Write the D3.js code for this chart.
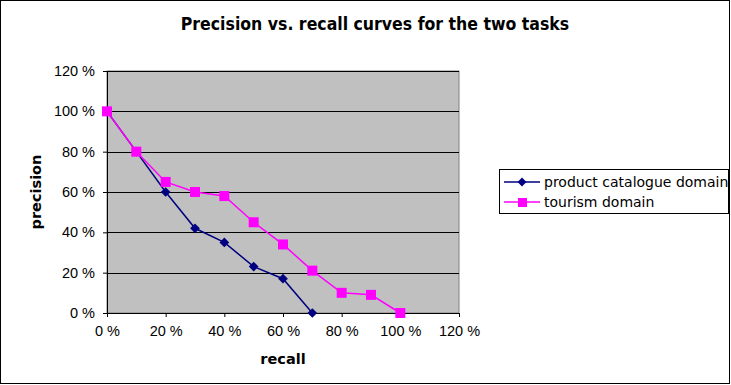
<!DOCTYPE html>
<html>
<head>
<meta charset="utf-8">
<script src="https://cdn.jsdelivr.net/npm/d3@7"></script>
<style>
  body { margin: 0; background: #fff; }
  svg { display: block; font-family: "DejaVu Sans", Verdana, sans-serif; }
</style>
</head>
<body>
<svg id="chart"></svg>
<script>
// values (recall %, precision %)
var productRecall = [0, 10, 20, 30, 40, 50, 60, 70];
var productPrecision = [100, 80, 60, 42, 35, 23, 17, 0];
var tourismRecall = [0, 10, 20, 30, 40, 50, 60, 70, 80, 90, 100];
var tourismPrecision = [100, 80, 65, 60, 58, 45, 34, 21, 10, 9, 0];
var xTicks = [0, 20, 40, 60, 80, 100, 120];
var yTicks = [0, 20, 40, 60, 80, 100, 120];
var seriesNames = ["product catalogue domain", "tourism domain"];

var chartWidth = 731, chartHeight = 385;
var svg = d3.select("#chart").attr("width", chartWidth).attr("height", chartHeight);

var margin = { top: 71, left: 107 },
    width = 352,
    height = 242;

// outer frame
svg.append("rect")
    .attr("x", 0.5).attr("y", 0.5)
    .attr("width", 729).attr("height", 383)
    .attr("fill", "#fff").attr("stroke", "#000");

svg.append("text")
    .attr("x", 375).attr("y", 30)
    .attr("text-anchor", "middle")
    .style("font-family", "'DejaVu Sans Condensed', 'DejaVu Sans', sans-serif")
    .style("font-weight", "bold")
    .style("font-size", "17.5px")
    .text("Precision vs. recall curves for the two tasks");

var x = d3.scaleLinear().domain([0, 120]).range([0, width]),
    y = d3.scaleLinear().domain([0, 120]).range([height, 0]);

var g = svg.append("g").attr("transform", "translate(" + margin.left + "," + margin.top + ")");

g.append("rect")
    .attr("width", width).attr("height", height)
    .attr("fill", "#c0c0c0").attr("stroke", "#808080");

// gridlines
g.selectAll(".grid")
    .data(yTicks.slice(1))
    .enter().append("line")
    .attr("x1", 0).attr("x2", width)
    .attr("y1", function (d) { return Math.round(y(d)) + 0.5; })
    .attr("y2", function (d) { return Math.round(y(d)) + 0.5; })
    .attr("stroke", "#000");

var fmt = function (d) { return d + " %"; };

var xAxis = g.append("g")
    .attr("transform", "translate(0," + height + ")")
    .call(d3.axisBottom(x).tickValues(xTicks).tickFormat(fmt).tickSize(4).tickPadding(9));

var yAxis = g.append("g")
    .call(d3.axisLeft(y).tickValues(yTicks).tickFormat(fmt).tickSize(4).tickPadding(8));

[xAxis, yAxis].forEach(function (a) {
    a.selectAll("text").style("font-size", "14.5px").attr("fill", "#000");
    a.select(".domain").attr("stroke", "#000");
    a.selectAll("line").attr("stroke", "#000");
});

svg.append("text")
    .attr("x", 283).attr("y", 364)
    .attr("text-anchor", "middle")
    .style("font-weight", "bold").style("font-size", "14.5px")
    .text("recall");

svg.append("text")
    .attr("transform", "translate(41,192) rotate(-90)")
    .attr("text-anchor", "middle")
    .style("font-weight", "bold").style("font-size", "14.5px")
    .text("precision");

var line = d3.line()
    .x(function (d) { return x(d[0]); })
    .y(function (d) { return y(d[1]); });

var productData = d3.zip(productRecall, productPrecision),
    tourismData = d3.zip(tourismRecall, tourismPrecision);

g.append("path").datum(productData)
    .attr("d", line).attr("fill", "none")
    .attr("stroke", "#000080").attr("stroke-width", 1.5);

g.selectAll(".diamond")
    .data(productData)
    .enter().append("path")
    .attr("d", d3.symbol().type(d3.symbolDiamond2).size(60))
    .attr("transform", function (d) { return "translate(" + x(d[0]) + "," + y(d[1]) + ")"; })
    .attr("fill", "#000080");

g.append("path").datum(tourismData)
    .attr("d", line).attr("fill", "none")
    .attr("stroke", "#ff00ff").attr("stroke-width", 1.5);

g.selectAll(".square")
    .data(tourismData)
    .enter().append("rect")
    .attr("x", function (d) { return x(d[0]) - 5; })
    .attr("y", function (d) { return y(d[1]) - 5; })
    .attr("width", 10).attr("height", 10)
    .attr("fill", "#ff00ff");

// legend
var legend = svg.append("g").attr("transform", "translate(499,169)");
legend.append("rect")
    .attr("x", 0.5).attr("y", 0.5)
    .attr("width", 229).attr("height", 44)
    .attr("fill", "#fff").attr("stroke", "#000");

var colors = ["#000080", "#ff00ff"];
seriesNames.forEach(function (name, i) {
    var ly = 13 + i * 20;
    legend.append("line")
        .attr("x1", 5).attr("x2", 41).attr("y1", ly).attr("y2", ly)
        .attr("stroke", colors[i]).attr("stroke-width", 1.5);
    if (i === 0) {
        legend.append("path")
            .attr("d", d3.symbol().type(d3.symbolDiamond2).size(50))
            .attr("transform", "translate(23," + ly + ")")
            .attr("fill", colors[i]);
    } else {
        legend.append("rect")
            .attr("x", 19).attr("y", ly - 4).attr("width", 9).attr("height", 9)
            .attr("fill", colors[i]);
    }
    legend.append("text")
        .attr("x", 45).attr("y", ly + 5)
        .style("font-size", "14px")
        .text(name);
});
</script>
</body>
</html>
